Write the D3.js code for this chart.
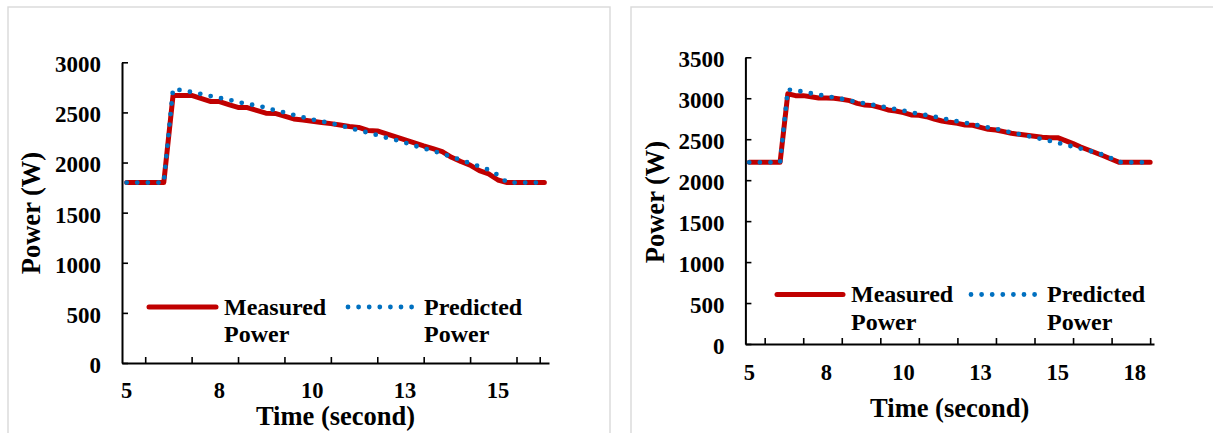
<!DOCTYPE html>
<html>
<head>
<meta charset="utf-8">
<script src="https://cdn.jsdelivr.net/npm/d3@7"></script>
<style>
  html, body { margin: 0; padding: 0; background: #ffffff; }
  svg { display: block; }
  text { font-family: "Liberation Serif", "Times New Roman", serif; font-weight: bold; fill: #000; }
</style>
</head>
<body>
<svg id="chart" width="1213" height="433"></svg>
<script>
// Sample times (s), one sample every 0.25 s
const timeA = [5, 5.25, 5.5, 5.75, 6, 6.25, 6.5, 6.75, 7, 7.25, 7.5, 7.75, 8, 8.25, 8.5, 8.75,
  9, 9.25, 9.5, 9.75, 10, 10.25, 10.5, 10.75, 11, 11.25, 11.5, 11.75, 12, 12.25, 12.5, 12.75,
  13, 13.25, 13.5, 13.75, 14, 14.25, 14.5, 14.75, 15, 15.25, 15.5, 15.75, 16, 16.25];
const timeB = [5, 5.25, 5.5, 5.75, 6, 6.25, 6.5, 6.75, 7, 7.25, 7.5, 7.75, 8, 8.25, 8.5, 8.75,
  9, 9.25, 9.5, 9.75, 10, 10.25, 10.5, 10.75, 11, 11.25, 11.5, 11.75, 12, 12.25, 12.5, 12.75,
  13, 13.25, 13.5, 13.75, 14, 14.25, 14.5, 14.75, 15, 15.25, 15.5, 15.75, 16, 16.25, 16.5, 16.75,
  17, 17.25, 17.5, 17.75, 18];

// Power (W), first run
const measuredA = [1800, 1800, 1800, 1800, 1800, 2670, 2670, 2670, 2640, 2610, 2608, 2578, 2550, 2548,
  2520, 2492, 2490, 2462, 2435, 2425, 2412, 2400, 2388, 2375, 2360, 2350, 2320, 2315, 2285, 2255,
  2225, 2195, 2165, 2138, 2108, 2052, 2010, 1975, 1920, 1886, 1826, 1800, 1800, 1800, 1800, 1800];
const predictedA = [1800, 1800, 1800, 1800, 1800, 2735, 2720, 2703, 2684, 2664, 2645, 2627, 2604, 2583,
  2570, 2548, 2520, 2500, 2475, 2452, 2430, 2410, 2392, 2372, 2345, 2322, 2298, 2274, 2247, 2225,
  2198, 2168, 2142, 2116, 2087, 2057, 2025, 1993, 1962, 1927, 1876, 1800, 1800, 1800, 1800, 1800];

// Power (W), second run
const measuredB = [2218, 2218, 2218, 2218, 2218, 3055, 3032, 3032, 3018, 3003, 3003, 3000, 2987, 2971,
  2938, 2918, 2910, 2885, 2857, 2845, 2824, 2796, 2792, 2775, 2747, 2722, 2706, 2694, 2674, 2670,
  2645, 2621, 2613, 2592, 2572, 2560, 2548, 2536, 2523, 2519, 2519, 2482, 2446, 2405, 2368, 2332,
  2295, 2255, 2218, 2218, 2218, 2218, 2218];
const predictedB = [2218, 2218, 2218, 2218, 2218, 3105, 3096, 3079, 3061, 3043, 3026, 3010, 2992, 2972,
  2954, 2937, 2920, 2902, 2884, 2866, 2848, 2827, 2810, 2793, 2775, 2758, 2736, 2718, 2701, 2683,
  2664, 2644, 2627, 2604, 2582, 2562, 2542, 2522, 2500, 2479, 2456, 2432, 2410, 2385, 2361, 2336,
  2307, 2265, 2220, 2218, 2218, 2218, 2218];

// Category axis labels (every 10th sample) and y tick step
const xLabelsA = ["5", "8", "10", "13", "15"];
const xLabelsB = ["5", "8", "10", "13", "15", "18"];
const yMaxA = 3000, yMaxB = 3500, yStep = 500;
const seriesNames = [["Measured", "Power"], ["Predicted", "Power"]];
const xTitle = "Time (second)", yTitle = "Power (W)";

const RED = "#C00000", BLUE = "#0070C0";

const svg = d3.select("#chart");

// panel frames
svg.append("rect").attr("x", 8).attr("y", 7).attr("width", 602).attr("height", 450)
  .attr("fill", "#fff").attr("stroke", "#d9d9d9").attr("stroke-width", 1.4);
svg.append("rect").attr("x", 631).attr("y", 7).attr("width", 600).attr("height", 450)
  .attr("fill", "#fff").attr("stroke", "#d9d9d9").attr("stroke-width", 1.4);

function drawPanel(cfg) {
  const n = cfg.time.length;
  const x = d3.scaleLinear().domain([-0.5, n - 0.5]).range([cfg.x0, cfg.x1]);
  const y = d3.scaleLinear().domain([0, cfg.yMax]).range([cfg.yBottom, cfg.yTop]);
  const g = svg.append("g");

  // y axis
  const yAxis = g.append("g").attr("transform", `translate(${cfg.x0},0)`)
    .call(d3.axisLeft(y).tickValues(d3.range(0, cfg.yMax + 1, yStep))
      .tickFormat(d3.format("d"))
      .tickSizeInner(-6).tickSizeOuter(0).tickPadding(21));
  yAxis.attr("font-family", null).attr("font-size", null);
  yAxis.select(".domain").attr("stroke", "#000").attr("stroke-width", 2);
  yAxis.selectAll(".tick line").attr("stroke", "#000").attr("stroke-width", 1.6);
  yAxis.selectAll(".tick text").attr("font-size", 23).attr("dy", "0.41em");

  // x axis (tick marks only; labels placed below)
  const xAxis = g.append("g").attr("transform", `translate(0,${cfg.yBottom})`)
    .call(d3.axisBottom(x).tickValues(cfg.tickMarks).tickFormat(() => "")
      .tickSizeInner(-6).tickSizeOuter(0));
  xAxis.attr("font-family", null).attr("font-size", null);
  xAxis.select(".domain").attr("stroke", "#000").attr("stroke-width", 2);
  xAxis.selectAll(".tick line").attr("stroke", "#000").attr("stroke-width", 1.6);

  const labelIdx = cfg.xLabels.map((_, k) => k * 10);
  g.selectAll("text.xl").data(labelIdx).join("text").attr("class", "xl")
    .attr("x", i => x(i)).attr("y", cfg.xLabelBase)
    .attr("text-anchor", "middle").attr("font-size", 22.5)
    .text((i, k) => cfg.xLabels[k]);

  // axis titles
  g.append("text").attr("x", (cfg.x0 + cfg.x1) / 2).attr("y", cfg.xTitleBase)
    .attr("text-anchor", "middle").attr("font-size", 26.5).text(xTitle);
  g.append("text").attr("transform", `translate(${cfg.yTitleX},${cfg.yTitleY}) rotate(-90)`)
    .attr("text-anchor", "middle").attr("font-size", 26.5).text(yTitle);

  // series
  const line = d3.line().x((d, i) => x(i)).y(d => y(d));
  g.append("path").datum(cfg.measured).attr("d", line)
    .attr("fill", "none").attr("stroke", RED).attr("stroke-width", 5)
    .attr("stroke-linejoin", "round").attr("stroke-linecap", "round");
  g.append("path").datum(cfg.predicted).attr("d", line)
    .attr("fill", "none").attr("stroke", BLUE).attr("stroke-width", 4.8)
    .attr("stroke-dasharray", "0 10.6").attr("stroke-linecap", "round");

  // legend
  const L = cfg.legend;
  g.append("line").attr("x1", L.red[0]).attr("x2", L.red[1]).attr("y1", L.y).attr("y2", L.y)
    .attr("stroke", RED).attr("stroke-width", 5).attr("stroke-linecap", "round");
  g.append("line").attr("x1", L.blue[0]).attr("x2", L.blue[1]).attr("y1", L.y).attr("y2", L.y)
    .attr("stroke", BLUE).attr("stroke-width", 4.8).attr("stroke-dasharray", "0 10.6")
    .attr("stroke-linecap", "round");
  [L.t1, L.t2].forEach((tx, s) => {
    seriesNames[s].forEach((word, r) => {
      g.append("text").attr("x", tx).attr("y", r === 0 ? L.b1 : L.b2)
        .attr("font-size", 24).text(word);
    });
  });
}

drawPanel({
  time: timeA, measured: measuredA, predicted: predictedA, xLabels: xLabelsA,
  x0: 122, x1: 549, yTop: 62.3, yBottom: 363, yMax: yMaxA,
  tickMarks: [2, 7, 12, 17, 22, 27, 32, 37, 42, 44.5],
  xLabelBase: 398, xTitleBase: 425, yTitleX: 40, yTitleY: 213,
  legend: { y: 307, red: [149, 216], blue: [348, 416], t1: 224, t2: 424, b1: 315, b2: 342 }
});

drawPanel({
  time: timeB, measured: measuredB, predicted: predictedB, xLabels: xLabelsB,
  x0: 745.4, x1: 1154, yTop: 57.3, yBottom: 344, yMax: yMaxB,
  tickMarks: [2, 7, 12, 17, 22, 27, 32, 37, 42, 47, 52],
  xLabelBase: 380, xTitleBase: 416.5, yTitleX: 664, yTitleY: 202,
  legend: { y: 294.5, red: [777, 843], blue: [971, 1039], t1: 851, t2: 1047, b1: 302, b2: 330 }
});
</script>
</body>
</html>
